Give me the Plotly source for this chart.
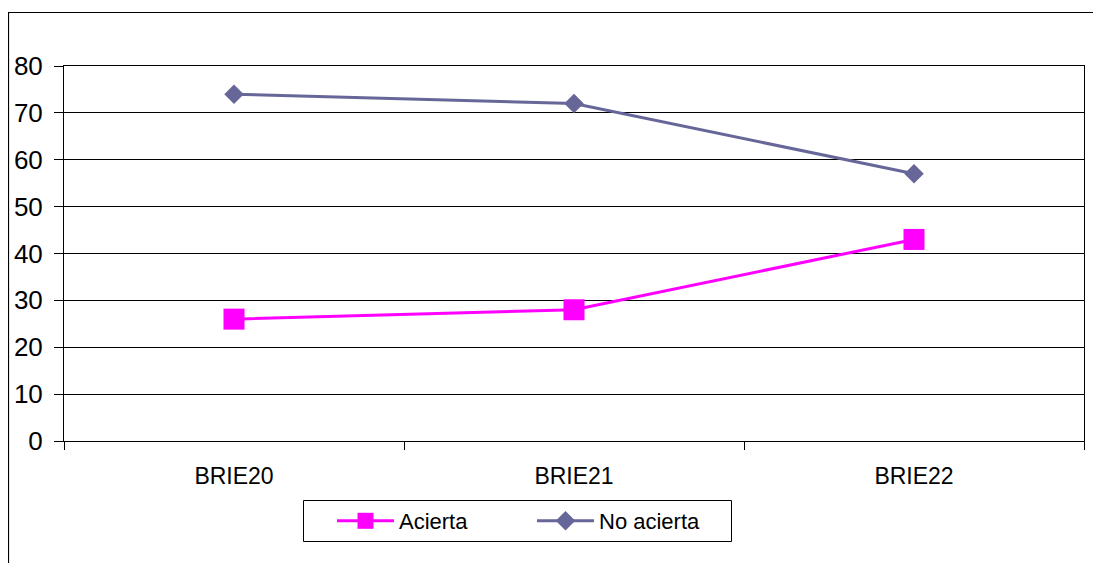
import plotly.graph_objects as go

categories = ["BRIE20", "BRIE21", "BRIE22"]
acierta = [26, 28, 43]
no_acierta = [74, 72, 57]
y_ticks = [0, 10, 20, 30, 40, 50, 60, 70, 80]

FONT = "Liberation Sans, Arial, sans-serif"

fig = go.Figure()
fig.add_trace(go.Scatter(
    x=categories, y=acierta, name="Acierta", mode="lines+markers",
    line=dict(color="#FF00FF", width=3),
    marker=dict(symbol="square", size=21, color="#FF00FF"),
))
fig.add_trace(go.Scatter(
    x=categories, y=no_acierta, name="No acierta", mode="lines+markers",
    line=dict(color="#666699", width=3),
    marker=dict(symbol="diamond", size=15, color="#666699"),
))

# the page body has an 8px margin; work in screen coordinates
OFF = 8
L, R, T, B = 64, 1084, 66, 441          # plot area on screen
W, H = 1101 - OFF, 563 - OFF            # figure size
pw, ph = R - L, B - T

def px2x(p):
    return (p - L) / pw

def py2y(p):
    return (B - p) / ph

fig.update_layout(
    width=W, height=H,
    margin=dict(l=L - OFF, r=W - (R - OFF), t=T - OFF, b=H - (B - OFF), pad=0,
                autoexpand=False),
    paper_bgcolor="white", plot_bgcolor="white",
    font=dict(family=FONT, color="black"),
    showlegend=True,
    legend=dict(
        orientation="h", x=px2x(332), y=py2y(521), xanchor="left", yanchor="middle",
        borderwidth=0, bgcolor="rgba(0,0,0,0)",
        font=dict(size=22, family=FONT, color="black"),
        itemwidth=57, entrywidth=128, entrywidthmode="pixels",
    ),
    xaxis=dict(
        type="category", range=[-0.5, 2.5], tickson="boundaries",
        ticks="outside", ticklen=8, tickcolor="black", automargin=False,
        showline=True, linecolor="black", linewidth=1, mirror=True,
        showgrid=False, tickfont=dict(size=23, family=FONT, color="black"),
        ticklabelstandoff=14,
    ),
    yaxis=dict(
        range=[0, 80], tickvals=y_ticks, ticks="outside", ticklen=9, tickcolor="black",
        automargin=False,
        showline=True, linecolor="black", linewidth=1, mirror=True,
        showgrid=True, gridcolor="black", gridwidth=1, zeroline=False,
        tickfont=dict(size=26, family=FONT, color="black"),
        ticklabelstandoff=6,
    ),
    shapes=[
        dict(type="rect", xref="paper", yref="paper",
             x0=px2x(8.5), x1=px2x(1120), y0=py2y(580), y1=py2y(12.5),
             line=dict(color="black", width=1.2), layer="below"),
        dict(type="rect", xref="paper", yref="paper",
             x0=px2x(303.5), x1=px2x(731.5), y0=py2y(541.5), y1=py2y(500.5),
             line=dict(color="black", width=1), layer="below"),
    ],
)

fig.write_html("out.html")
